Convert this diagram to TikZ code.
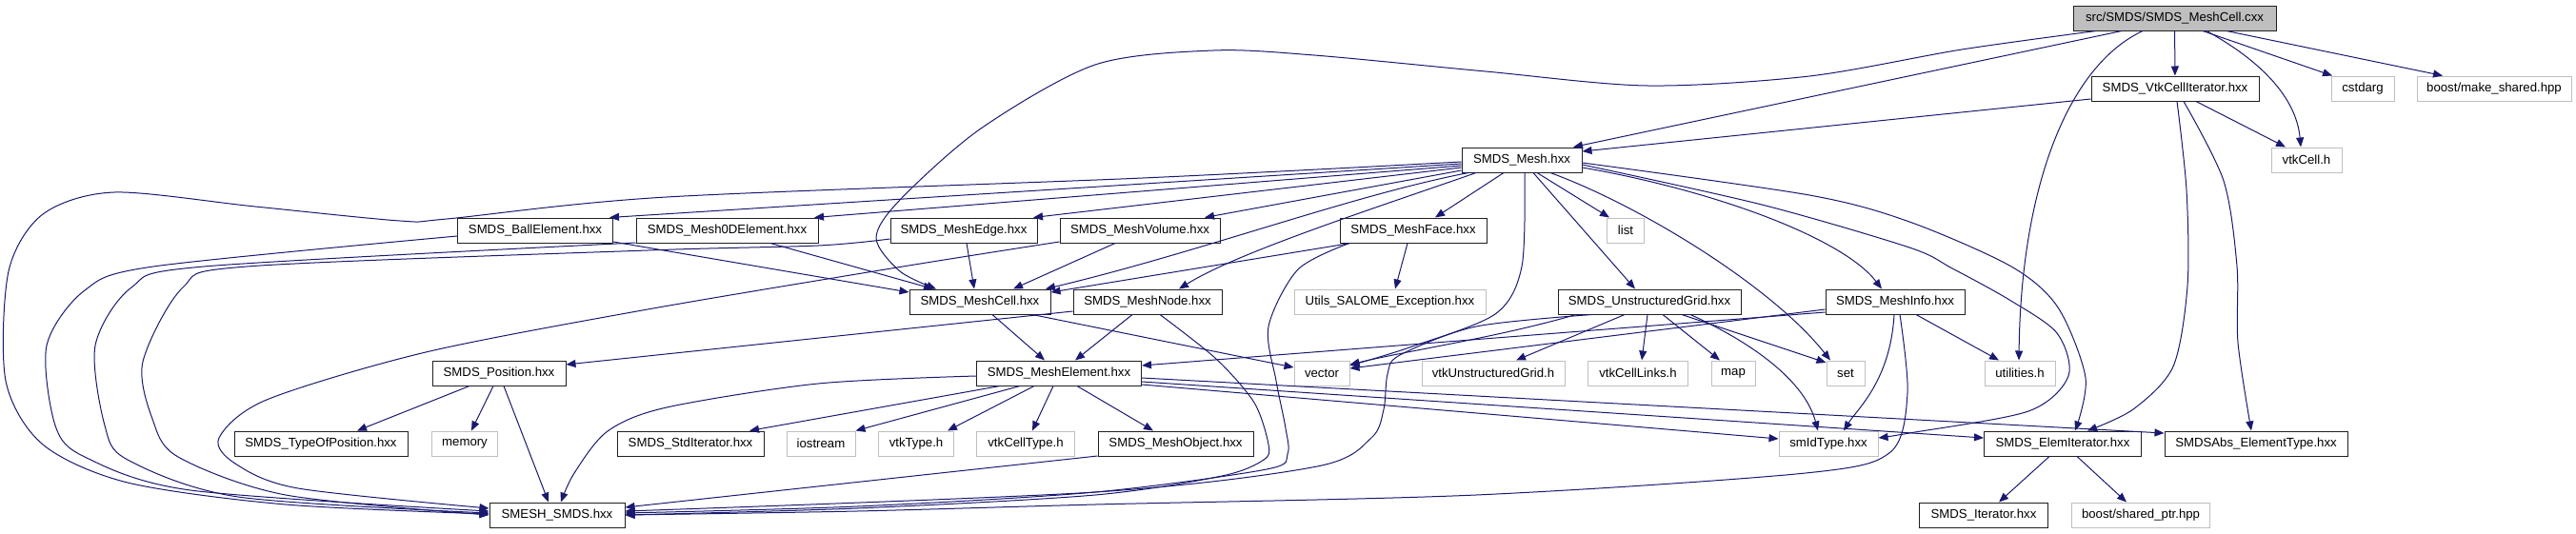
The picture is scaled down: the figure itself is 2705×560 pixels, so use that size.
\documentclass[tikz,border=0pt]{standalone}
\usepackage{fontspec}
\setmainfont{Liberation Sans}
\usetikzlibrary{arrows.meta}
\definecolor{edgeblue}{HTML}{191970}
\definecolor{extgray}{HTML}{BFBFBF}
\definecolor{boxline}{HTML}{202020}
\begin{document}
\begin{tikzpicture}[x=1pt,y=-1pt,
 box/.style={draw=boxline, line width=1pt, fill=white, minimum height=26pt, inner sep=0pt, font=\fontsize{13.2}{15}\selectfont},
 ext/.style={box, draw=extgray},
 root/.style={box, fill=extgray},
 dep/.style={draw=edgeblue, line width=1pt, -{Triangle[length=10pt,width=8pt]}}]
\useasboundingbox (0,0) rectangle (2705,560);
% row 0
\node[root, minimum width=213pt] (cxx) at (2283.5,19) {src/SMDS/SMDS\_MeshCell.cxx};
% row 1
\node[box, minimum width=176pt] (vtkit) at (2284,93) {SMDS\_VtkCellIterator.hxx};
\node[ext, minimum width=66pt] (cstdarg) at (2481,93) {cstdarg};
\node[ext, minimum width=162pt] (mkshared) at (2619,93) {boost/make\_shared.hpp};
% row 2
\node[box, minimum width=126pt] (mesh) at (1598,168) {SMDS\_Mesh.hxx};
\node[ext, minimum width=74pt] (vtkcell) at (2422,168) {vtkCell.h};
% row 3
\node[box, minimum width=163pt] (ball) at (562,242) {SMDS\_BallElement.hxx};
\node[box, minimum width=191pt] (zeroD) at (763.5,242) {SMDS\_Mesh0DElement.hxx};
\node[box, minimum width=154pt] (edge) at (1012,242) {SMDS\_MeshEdge.hxx};
\node[box, minimum width=168pt] (volume) at (1197,242) {SMDS\_MeshVolume.hxx};
\node[box, minimum width=154pt] (face) at (1484,242) {SMDS\_MeshFace.hxx};
\node[ext, minimum width=39pt] (list) at (1707,242) {list};
% row 4
\node[box, minimum width=148pt] (cellh) at (1029,317) {SMDS\_MeshCell.hxx};
\node[box, minimum width=156pt] (node) at (1205,317) {SMDS\_MeshNode.hxx};
\node[ext, minimum width=201pt] (utilsexc) at (1459.5,317) {Utils\_SALOME\_Exception.hxx};
\node[box, minimum width=192pt] (ugrid) at (1732,317) {SMDS\_UnstructuredGrid.hxx};
\node[box, minimum width=146pt] (info) at (1990,317) {SMDS\_MeshInfo.hxx};
% row 5
\node[box, minimum width=140pt] (position) at (524,392) {SMDS\_Position.hxx};
\node[box, minimum width=173pt] (elem) at (1112,392) {SMDS\_MeshElement.hxx};
\node[ext, minimum width=58pt] (vector) at (1388,392) {vector};
\node[ext, minimum width=150pt] (vtkug) at (1568,392) {vtkUnstructuredGrid.h};
\node[ext, minimum width=105pt] (links) at (1720,392) {vtkCellLinks.h};
\node[ext, minimum width=46pt] (map) at (1820,392) {map};
\node[ext, minimum width=40pt] (set) at (1938,392) {set};
\node[ext, minimum width=74pt] (util) at (2121,392) {utilities.h};
% row 6
\node[box, minimum width=182pt] (typepos) at (337,466) {SMDS\_TypeOfPosition.hxx};
\node[ext, minimum width=69pt] (memory) at (488,466) {memory};
\node[box, minimum width=154pt] (stdit) at (725,466) {SMDS\_StdIterator.hxx};
\node[ext, minimum width=72pt] (iostream) at (862,466) {iostream};
\node[ext, minimum width=79pt] (vtktype) at (962,466) {vtkType.h};
\node[ext, minimum width=103pt] (vtkcelltype) at (1077,466) {vtkCellType.h};
\node[box, minimum width=163pt] (meshobj) at (1234.5,466) {SMDS\_MeshObject.hxx};
\node[ext, minimum width=104pt] (smid) at (1920,466) {smIdType.hxx};
\node[box, minimum width=165pt] (elemit) at (2166,466) {SMDS\_ElemIterator.hxx};
\node[box, minimum width=192pt] (absel) at (2369,466) {SMDSAbs\_ElementType.hxx};
% row 7
\node[box, minimum width=142pt] (smesh) at (585,541) {SMESH\_SMDS.hxx};
\node[box, minimum width=135pt] (iter) at (2083,541) {SMDS\_Iterator.hxx};
\node[ext, minimum width=145pt] (shptr) at (2248,541) {boost/shared\_ptr.hpp};

% edges from cxx
\draw[dep] (cxx) -- (vtkit);
\draw[dep] (cxx.south -| 2313,0) -- (cstdarg.north -| 2449,0);
\draw[dep] (cxx.south -| 2338,0) -- (mkshared.north -| 2565,0);
\draw[dep] (cxx.south -| 2317,0) .. controls (2385,70) and (2412,110) .. (vtkcell.north -| 2416,0);
\draw[dep] (cxx.south -| 2250,0) .. controls (2170,70) and (2122,200) .. (util.north -| 2120,0);
\draw[dep] (cxx.south -| 2228,0) -- (mesh.north -| 1652,0);
\draw[dep] plot[smooth] coordinates {(cxx.south -| 2201,0) (2060,52) (1900,80) (1730,90) (1560,75) (1380,58) (1274,53) (1150,68) (1030,135) (945,210) (920,250) (945,285) (cellh.north -| 983,0)};
% vtkit
\draw[dep] (vtkit.west |- 0,104) -- (mesh.east |- 0,159);
\draw[dep] (vtkit.south -| 2306,0) -- (vtkcell.north -| 2400,0);
\draw[dep] plot[smooth] coordinates {(vtkit.south -| 2286,0) (2296,200) (2297,300) (2282,385) (2240,430) (elemit.north -| 2192,0)};
\draw[dep] plot[smooth] coordinates {(vtkit.south -| 2293,0) (2335,190) (2349,280) (2350,360) (absel.north -| 2364,0)};
% mesh
\draw[dep] plot[smooth] coordinates {(mesh.west |- 0,170) (1200,187) (700,207) (469,230) (420,232) (268,217) (120,202) (45,225) (9,285) (6,400) (45,467) (134,507) (300,530) (smesh.west |- 0,540)};
\draw[dep] (mesh.west |- 0,172) -- (ball.north -| 640,0);
\draw[dep] (mesh.west |- 0,174) -- (zeroD.north -| 855,0);
\draw[dep] (mesh.west |- 0,176) -- (edge.north -| 1085,0);
\draw[dep] (mesh.west |- 0,179) -- (volume.north -| 1265,0);
\draw[dep] (mesh.south -| 1579,0) -- (face.north -| 1507,0);
\draw[dep] (mesh.south -| 1542,0) .. controls (1420,205) and (1260,265) .. (cellh.north -| 1098,0);
\draw[dep] (mesh.south -| 1550,0) .. controls (1440,220) and (1300,265) .. (node.north -| 1238,0);
\draw[dep] (mesh.south -| 1614,0) -- (list.north -| 1690,0);
\draw[dep] plot[smooth] coordinates {(mesh.south -| 1601,0) (1598,280) (1570,330) (1480,365) (vector.east |- 0,384)};
\draw[dep] (mesh.south -| 1610,0) -- (ugrid.north -| 1717,0);
\draw[dep] (mesh.south -| 1628,0) .. controls (1720,215) and (1860,300) .. (set.north -| 1922,0);
\draw[dep] (mesh.east |- 0,176) .. controls (1800,200) and (1935,250) .. (info.north -| 1976,0);
\draw[dep] plot[smooth] coordinates {(mesh.east |- 0,173) (1850,215) (2005,260) (2050,282) (2110,315) (2160,350) (2172,395) (2130,432) (2005,455) (smid.east |- 0,460)};
\draw[dep] plot[smooth] coordinates {(mesh.east |- 0,171) (1900,205) (2005,233) (2112,280) (2161,323) (2190,397) (elemit.north -| 2179,0)};
% ball
\draw[dep] (ball.east |- 0,254) -- (cellh.west |- 0,307);
\draw[dep] plot[smooth] coordinates {(ball.west |- 0,248) (161,280) (89,305) (49,363) (58,447) (89,480) (200,515) (smesh.west |- 0,537)};
% zeroD
\draw[dep] (zeroD.south -| 809,0) -- (cellh.north -| 980,0);
\draw[dep] plot[smooth] coordinates {(zeroD.west |- 0,255) (214,280) (138,302) (100,363) (110,447) (134,483) (250,522) (smesh.west |- 0,539)};
% edge
\draw[dep] (edge.south -| 1015,0) -- (cellh.north -| 1023,0);
\draw[dep] plot[smooth] coordinates {(edge.west |- 0,251) (859,258) (680,263) (259,280) (192,302) (150,380) (160,440) (187,480) (300,520) (smesh.west |- 0,541)};
% volume
\draw[dep] (volume.south -| 1171,0) -- (cellh.north -| 1064,0);
\draw[dep] plot[smooth] coordinates {(volume.west |- 0,254) (948,280) (680,325) (447,370) (280,420) (230,460) (247,487) (313,513) (smesh.west |- 0,534)};
% face
\draw[dep] (face.south -| 1418,0) -- (cellh.east |- 0,307);
\draw[dep] (face.south -| 1478,0) -- (utilsexc.north -| 1465,0);
\draw[dep] plot[smooth] coordinates {(face.south -| 1417,0) (1363,283) (1332,343) (1340,400) (1350,450) (1352,477) (1330,493) (1150,517) (900,532) (smesh.east |- 0,539)};
% node
\draw[dep] (node.south -| 1189,0) -- (elem.north -| 1129,0);
\draw[dep] (node.west |- 0,327) -- (position.east |- 0,383);
\draw[dep] plot[smooth] coordinates {(node.south -| 1218,0) (1277,377) (1317,423) (1332,467) (1327,483) (1283,500) (1150,520) (900,534) (smesh.east |- 0,541)};
% cellh
\draw[dep] (cellh.south -| 1042,0) -- (elem.north -| 1097,0);
\draw[dep] (cellh.south -| 1084,0) -- (vector.west |- 0,386);
% elem
\draw[dep] (elem.south -| 1050,0) -- (stdit.north -| 787,0);
\draw[dep] (elem.south -| 1071,0) -- (iostream.north east);
\draw[dep] (elem.south -| 1086,0) -- (vtktype.north -| 995,0);
\draw[dep] (elem.south -| 1106,0) -- (vtkcelltype.north -| 1084,0);
\draw[dep] (elem.south -| 1131,0) -- (meshobj.north -| 1211,0);
\draw[dep] plot[smooth] coordinates {(elem.west |- 0,395) (859,403) (700,428) (638,453) (603,497) (smesh.north -| 589,0)};
\draw[dep] (elem.east |- 0,397) -- (absel.west |- 0,455);
\draw[dep] (elem.east |- 0,401) -- (elemit.west |- 0,460);
\draw[dep] (elem.east |- 0,404) -- (smid.west |- 0,461);
% meshobj
\draw[dep] (meshobj.west |- 0,479) -- (smesh.east |- 0,533);
% position
\draw[dep] (position.south -| 493,0) -- (typepos.north -| 375,0);
\draw[dep] (position.south -| 518,0) -- (memory.north -| 495,0);
\draw[dep] (position.south -| 529,0) -- (smesh.north -| 576,0);
% ugrid
\draw[dep] (ugrid.south -| 1655,0) .. controls (1570,355) and (1480,368) .. (vector.east |- 0,383);
\draw[dep] plot[smooth] coordinates {(ugrid.south -| 1672,0) (1550,343) (1470,373) (1457,393) (1453,430) (1440,460) (1383,490) (1150,517) (smesh.east |- 0,537)};
\draw[dep] (ugrid.south -| 1706,0) -- (vtkug.north -| 1592,0);
\draw[dep] (ugrid.south -| 1730,0) -- (links.north -| 1724,0);
\draw[dep] (ugrid.south -| 1746,0) -- (map.north -| 1806,0);
\draw[dep] (ugrid.south -| 1766,0) -- (set.west |- 0,381);
\draw[dep] (ugrid.south -| 1775,0) .. controls (1840,360) and (1895,400) .. (smid.north -| 1909,0);
% info
\draw[dep] (info.west |- 0,325) -- (vector.east |- 0,387);
\draw[dep] (info.west |- 0,328) -- (elem.east |- 0,384);
\draw[dep] (info.south -| 1989,0) .. controls (1985,400) and (1950,430) .. (smid.north -| 1936,0);
\draw[dep] (info.south -| 2012,0) -- (util.north -| 2099,0);
\draw[dep] plot[smooth] coordinates {(info.south -| 1995,0) (2003,413) (1985,475) (1896,497) (1550,520) (1150,530) (900,537) (smesh.east |- 0,541)};
% elemit
\draw[dep] (elemit.south -| 2152,0) -- (iter.north -| 2099,0);
\draw[dep] (elemit.south -| 2181,0) -- (shptr.north -| 2233,0);
\end{tikzpicture}
\end{document}
